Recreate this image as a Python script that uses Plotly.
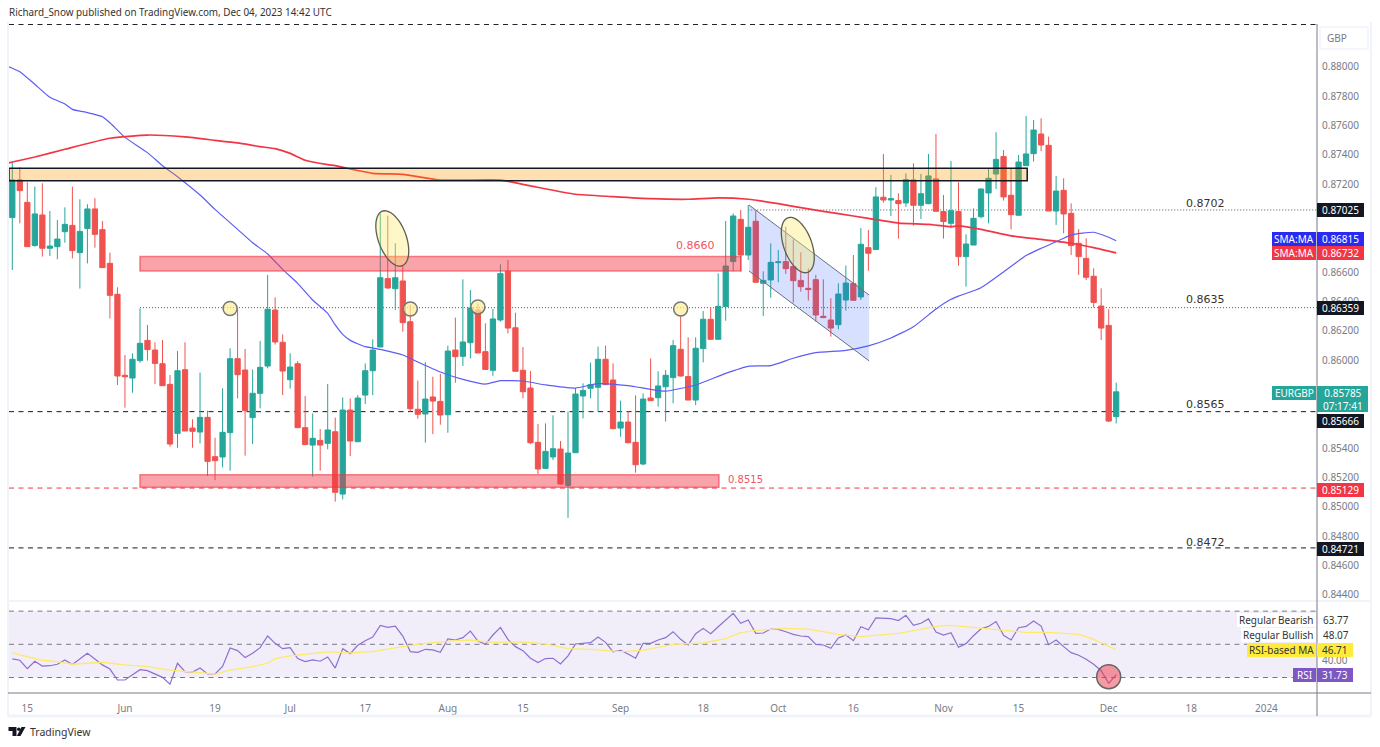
import numpy as np
import plotly.graph_objects as go

# EURGBP daily candles
opens = [0.86973, 0.87230, 0.87077, 0.86782, 0.86991, 0.86764, 0.86775, 0.86877, 0.86920, 0.86734, 0.86898, 0.87032,
         0.86891, 0.86661, 0.86450, 0.85898, 0.85879, 0.85998, 0.86136, 0.86070, 0.85977, 0.85836, 0.85502, 0.85936,
         0.85538, 0.85511, 0.85611, 0.85343, 0.85341, 0.85507, 0.86011, 0.85934, 0.85609, 0.85775, 0.85961, 0.86343,
         0.86123, 0.85868, 0.85977, 0.85541, 0.85422, 0.85454, 0.85434, 0.85513, 0.85088, 0.85661, 0.85445, 0.85763,
         0.85929, 0.86091, 0.86557, 0.86488, 0.86541, 0.86263, 0.85666, 0.85634, 0.85750, 0.85720, 0.85629, 0.86070,
         0.86027, 0.86120, 0.86343, 0.86059, 0.85932, 0.86275, 0.86607, 0.86222, 0.85932, 0.85811, 0.85441, 0.85263,
         0.85341, 0.85395, 0.85147, 0.85370, 0.85757, 0.85809, 0.85816, 0.86007, 0.85866, 0.85538, 0.85579, 0.85441,
         0.85293, 0.85743, 0.85745, 0.85820, 0.85882, 0.86075, 0.85889, 0.85729, 0.86080, 0.86280, 0.86143, 0.86366,
         0.86673, 0.86961, 0.86718, 0.86948, 0.86525, 0.86548, 0.86666, 0.86673, 0.86639, 0.86545, 0.86491, 0.86550,
         0.86300, 0.86275, 0.86243, 0.86411, 0.86523, 0.86432, 0.86768, 0.86755, 0.87112, 0.87093, 0.87089, 0.87073,
         0.87230, 0.87057, 0.87068, 0.87237, 0.87014, 0.86934, 0.87014, 0.86707, 0.86786, 0.86979, 0.87141, 0.87270,
         0.87389, 0.87125, 0.86989, 0.87327, 0.87409, 0.87543, 0.87466, 0.87018, 0.87159, 0.87002, 0.86798, 0.86695,
         0.86573, 0.86370, 0.86238, 0.85616]
highs = [0.87348, 0.87316, 0.87214, 0.87184, 0.87207, 0.87018, 0.86957, 0.87043, 0.87184, 0.87098, 0.87064, 0.87105,
         0.86950, 0.86734, 0.86498, 0.86036, 0.86048, 0.86354, 0.86241, 0.86123, 0.86138, 0.85900, 0.86063, 0.86123,
         0.85598, 0.85916, 0.85657, 0.85472, 0.85809, 0.86082, 0.86354, 0.86077, 0.85938, 0.86132, 0.86582, 0.86429,
         0.86177, 0.86048, 0.85995, 0.85757, 0.85638, 0.85532, 0.85838, 0.85609, 0.85747, 0.85741, 0.85763, 0.85979,
         0.86143, 0.87002, 0.86986, 0.86798, 0.86650, 0.86377, 0.85861, 0.85988, 0.85888, 0.85907, 0.86100, 0.86291,
         0.86552, 0.86479, 0.86388, 0.86252, 0.86350, 0.86654, 0.86684, 0.86325, 0.86091, 0.85927, 0.85566, 0.85570,
         0.85625, 0.85450, 0.85650, 0.85811, 0.85843, 0.85984, 0.86093, 0.86100, 0.85979, 0.85725, 0.85654, 0.85761,
         0.85775, 0.86013, 0.85925, 0.85934, 0.86139, 0.86309, 0.86157, 0.86157, 0.86336, 0.86361, 0.86593, 0.86950,
         0.87002, 0.87025, 0.87059, 0.87018, 0.86607, 0.86798, 0.86752, 0.86911, 0.86825, 0.86736, 0.86627, 0.86582,
         0.86552, 0.86423, 0.86525, 0.86646, 0.86718, 0.86902, 0.86889, 0.87180, 0.87407, 0.87264, 0.87139, 0.87275,
         0.87343, 0.87271, 0.87407, 0.87543, 0.87127, 0.87359, 0.87214, 0.86859, 0.87036, 0.87173, 0.87304, 0.87555,
         0.87434, 0.87309, 0.87400, 0.87666, 0.87639, 0.87650, 0.87525, 0.87257, 0.87241, 0.87070, 0.86895, 0.86832,
         0.86627, 0.86491, 0.86348, 0.85848]
lows = [0.86616, 0.86934, 0.86775, 0.86775, 0.86707, 0.86711, 0.86689, 0.86802, 0.86695, 0.86489, 0.86661, 0.86768,
        0.86632, 0.86286, 0.85832, 0.85677, 0.85779, 0.85984, 0.85998, 0.85838, 0.85827, 0.85411, 0.85404, 0.85518,
        0.85404, 0.85434, 0.85211, 0.85184, 0.85270, 0.85247, 0.85741, 0.85350, 0.85429, 0.85673, 0.85945, 0.86107,
        0.85763, 0.85807, 0.85541, 0.85425, 0.85207, 0.85247, 0.85393, 0.85036, 0.85052, 0.85347, 0.85445, 0.85702,
        0.85763, 0.86091, 0.86488, 0.86343, 0.86195, 0.85650, 0.85602, 0.85438, 0.85497, 0.85561, 0.85506, 0.85847,
        0.85961, 0.86013, 0.86050, 0.85934, 0.85895, 0.86263, 0.86184, 0.85925, 0.85741, 0.85429, 0.85225, 0.85263,
        0.85320, 0.85150, 0.84925, 0.85370, 0.85604, 0.85741, 0.85650, 0.85834, 0.85534, 0.85479, 0.85434, 0.85234,
        0.85284, 0.85725, 0.85684, 0.85582, 0.85707, 0.85889, 0.85729, 0.85695, 0.85986, 0.86143, 0.86143, 0.86270,
        0.86607, 0.86607, 0.86684, 0.86532, 0.86302, 0.86427, 0.86532, 0.86589, 0.86393, 0.86468, 0.86407, 0.86264,
        0.86291, 0.86161, 0.86211, 0.86339, 0.86409, 0.86411, 0.86611, 0.86752, 0.87075, 0.86984, 0.86830, 0.87046,
        0.86918, 0.86964, 0.87064, 0.87016, 0.86830, 0.86900, 0.86645, 0.86502, 0.86786, 0.86968, 0.86934, 0.87168,
        0.87089, 0.86893, 0.86989, 0.87327, 0.87355, 0.87427, 0.87018, 0.86923, 0.86866, 0.86718, 0.86582, 0.86548,
        0.86361, 0.86138, 0.85579, 0.85570]
closes = [0.87230, 0.87157, 0.86775, 0.86998, 0.86764, 0.86779, 0.86827, 0.86927, 0.86748, 0.86879, 0.87032, 0.86859,
          0.86632, 0.86443, 0.85893, 0.85888, 0.86007, 0.86116, 0.86073, 0.85979, 0.85827, 0.85429, 0.85929, 0.85518,
          0.85516, 0.85611, 0.85311, 0.85316, 0.85509, 0.86011, 0.85902, 0.85657, 0.85775, 0.85952, 0.86348, 0.86125,
          0.85927, 0.85954, 0.85541, 0.85425, 0.85468, 0.85422, 0.85525, 0.85100, 0.85661, 0.85450, 0.85743, 0.85929,
          0.86070, 0.86563, 0.86493, 0.86563, 0.86257, 0.85670, 0.85632, 0.85736, 0.85722, 0.85627, 0.86063, 0.86025,
          0.86125, 0.86357, 0.86050, 0.85938, 0.86282, 0.86591, 0.86220, 0.85925, 0.85786, 0.85438, 0.85259, 0.85379,
          0.85397, 0.85156, 0.85368, 0.85770, 0.85795, 0.85834, 0.86007, 0.85834, 0.85534, 0.85579, 0.85438, 0.85288,
          0.85736, 0.85725, 0.85825, 0.85898, 0.86100, 0.85893, 0.85729, 0.86082, 0.86280, 0.86143, 0.86368, 0.86643,
          0.86984, 0.86718, 0.86907, 0.86532, 0.86545, 0.86668, 0.86671, 0.86625, 0.86543, 0.86502, 0.86482, 0.86309,
          0.86291, 0.86220, 0.86452, 0.86527, 0.86409, 0.86791, 0.86730, 0.87114, 0.87093, 0.87102, 0.87068, 0.87232,
          0.87057, 0.87136, 0.87257, 0.87016, 0.86946, 0.87020, 0.86707, 0.86793, 0.86968, 0.87168, 0.87241, 0.87370,
          0.87114, 0.86993, 0.87352, 0.87407, 0.87570, 0.87468, 0.87018, 0.87154, 0.86998, 0.86782, 0.86707, 0.86566,
          0.86395, 0.86220, 0.85586, 0.85785]

sma50_idx = [-1, 0, 1, 3, 5, 7, 8, 10, 12, 13, 15, 18, 20, 22, 25, 27, 30, 32, 34, 36, 38, 40, 42, 43, 44, 45, 47, 49,
             52, 54, 57, 60, 63, 65, 68, 71, 75, 78, 82, 85, 87, 91, 95, 98, 101, 104, 107, 111, 114, 117, 120, 123,
             125, 126, 129, 132, 135, 137, 139, 141, 144, 146, 147]
sma50 = [0.88014, 0.87991, 0.87968, 0.87882, 0.87793, 0.87748, 0.87711, 0.87689, 0.87661, 0.87620, 0.87520, 0.87416,
         0.87327, 0.87252, 0.87127, 0.87029, 0.86893, 0.86802, 0.86725, 0.86620, 0.86525, 0.86411, 0.86320, 0.86241,
         0.86177, 0.86136, 0.86093, 0.86075, 0.86036, 0.85988, 0.85920, 0.85870, 0.85838, 0.85861, 0.85859, 0.85832,
         0.85811, 0.85841, 0.85827, 0.85802, 0.85790, 0.85832, 0.85911, 0.85959, 0.85964, 0.86014, 0.86052, 0.86068,
         0.86098, 0.86152, 0.86229, 0.86350, 0.86416, 0.86438, 0.86495, 0.86602, 0.86714, 0.86764, 0.86809, 0.86854,
         0.86873, 0.86839, 0.86815]
sma200_idx = [-1, 0, 3, 7, 13, 18, 23, 27, 30, 33, 35, 37, 39, 42, 43, 48, 52, 57, 65, 69, 75, 80, 85, 90, 94, 98, 102,
              106, 110, 114, 118, 122, 125, 126, 129, 133, 137, 141, 144, 147]
sma200 = [0.87340, 0.87352, 0.87386, 0.87439, 0.87514, 0.87536, 0.87523, 0.87500, 0.87482, 0.87457, 0.87443, 0.87411,
          0.87364, 0.87334, 0.87327, 0.87275, 0.87268, 0.87229, 0.87229, 0.87189, 0.87132, 0.87116, 0.87102, 0.87098,
          0.87107, 0.87098, 0.87068, 0.87032, 0.87000, 0.86968, 0.86936, 0.86927, 0.86911, 0.86916, 0.86893, 0.86848,
          0.86825, 0.86798, 0.86768, 0.86732]

rsi = [41.2, 40.4, 35.3, 39.8, 36.9, 37.1, 38.0, 40.6, 37.8, 41.2, 44.6, 41.2, 37.6, 35.1, 28.5, 28.5, 31.5, 34.7, 34.1,
       32.3, 30.1, 25.9, 38.6, 33.5, 33.3, 35.7, 32.1, 32.1, 36.7, 47.8, 46.2, 42.0, 44.6, 48.0, 55.0, 50.6, 47.4, 48.0,
       41.4, 39.6, 40.6, 39.8, 42.4, 35.7, 47.4, 44.4, 49.4, 52.2, 54.4, 61.4, 60.2, 61.0, 55.0, 45.6, 45.2, 47.0, 46.6,
       45.2, 53.2, 52.6, 54.0, 58.0, 52.0, 50.0, 55.6, 60.2, 53.0, 48.6, 46.2, 41.6, 39.0, 41.4, 41.6, 38.2, 43.0, 50.2,
       50.4, 51.0, 54.4, 51.2, 45.4, 46.4, 44.2, 41.6, 50.6, 50.6, 52.6, 54.0, 57.6, 53.0, 49.6, 56.4, 59.6, 56.4, 60.6,
       64.7, 68.7, 62.7, 64.7, 56.6, 56.8, 59.2, 59.0, 57.6, 56.0, 55.0, 54.6, 50.0, 49.6, 47.6, 53.8, 55.6, 52.2, 60.6,
       58.8, 65.9, 65.5, 65.5, 64.3, 67.5, 61.4, 62.7, 65.3, 57.4, 55.6, 57.0, 48.2, 50.4, 55.2, 59.4, 60.8, 63.7, 55.4,
       52.6, 60.0, 60.8, 64.1, 61.0, 49.8, 52.6, 48.6, 45.0, 43.4, 41.0, 38.0, 34.1, 26.5, 31.73]
rsi_ma_idx = [0, 1, 4, 6, 8, 12, 15, 18, 21, 24, 27, 29, 32, 34, 35, 37, 40, 42, 45, 48, 52, 55, 59, 61, 64, 68, 71, 74,
              77, 81, 84, 88, 92, 95, 97, 99, 103, 106, 110, 113, 118, 121, 123, 125, 129, 132, 135, 138, 142, 144, 147]
rsi_ma = [45.0, 43.6, 40.4, 39.6, 38.0, 39.2, 37.6, 36.5, 34.5, 33.3, 32.1, 34.5, 36.5, 38.6, 41.4, 43.0, 44.4, 45.4,
          44.8, 45.6, 48.6, 50.6, 52.2, 52.6, 51.2, 51.4, 50.2, 47.4, 47.0, 45.6, 46.4, 50.0, 50.8, 53.4, 57.0, 58.4,
          59.6, 59.2, 56.0, 54.6, 56.6, 59.0, 60.8, 61.4, 59.8, 58.6, 57.2, 57.2, 56.0, 53.0, 46.71]

# candle positions of the time axis labels (business days from 2023-05-11)
tick_idx = [2, 15, 27, 37, 47, 58, 68, 81, 92, 102, 112, 124, 134, 146, 157, 167]
tick_labels = ["15", "Jun", "19", "Jul", "17", "Aug", "15", "Sep", "18", "Oct", "16", "Nov", "15", "Dec", "18", "2024"]
price_ticks = [0.880, 0.878, 0.876, 0.874, 0.872, 0.866, 0.864, 0.862, 0.860, 0.854, 0.852, 0.850, 0.848, 0.846, 0.844]

circle_idx = [29, 53, 62, 89]
circle_price = [0.86353, 0.86350, 0.86364, 0.86350]
channel_idx = [98.1, 114.1, 114.1, 98.1, 98.1]
channel_price = [0.87059, 0.86445, 0.85996, 0.86609, 0.87059]

W, H = 1380, 747
PLOT_L, PLOT_R, PLOT_T, PLOT_B = 9, 1317, 24, 693
STEP_PX = 7.51      # pixels per candle
PRICE_PX = 14667    # pixels per unit of price
X_MIN, X_MAX = -0.44, 173.74
GREEN, RED = "#26a69a", "#ef5350"
GRID_GREY = "#787b86"
FRAME = "#f0f3fa"
FONT = "Noto Sans"
LEVEL_RED = "#f23645"


def xp(px):
    return (px - PLOT_L) / (PLOT_R - PLOT_L)


def yp(py):
    return (PLOT_B - py) / (PLOT_B - PLOT_T)


def ellipse_path(cx, cy, a, b, tilt=20):
    t = np.linspace(0, 2 * np.pi, 60)
    s, c = np.sin(np.radians(tilt)), np.cos(np.radians(tilt))
    dx = a * np.cos(t) * s + b * np.sin(t) * c
    dy = a * np.cos(t) * c - b * np.sin(t) * s
    xs = cx + dx / STEP_PX
    ys = cy - dy / PRICE_PX
    return "M " + " L ".join(f"{x:.3f},{y:.5f}" for x, y in zip(xs, ys)) + " Z"


def paper_poly(points):
    return "M " + " L ".join(f"{xp(x):.5f},{yp(y):.5f}" for x, y in points) + " Z"


idx = list(range(len(opens)))

fig = go.Figure()
fig.add_trace(go.Candlestick(x=idx, open=opens, high=highs, low=lows, close=closes,
                             increasing=dict(line=dict(color=GREEN, width=1), fillcolor=GREEN),
                             decreasing=dict(line=dict(color=RED, width=1), fillcolor=RED),
                             whiskerwidth=0, hoverinfo="skip"))
fig.add_trace(go.Scatter(x=sma50_idx, y=sma50, mode="lines", line=dict(color="#5c5cf7", width=1.2, shape="spline", smoothing=0.5)))
fig.add_trace(go.Scatter(x=sma200_idx, y=sma200, mode="lines", line=dict(color="#f23645", width=1.7, shape="spline", smoothing=0.5)))
fig.add_trace(go.Scatter(x=channel_idx, y=channel_price, mode="lines", fill="toself", line=dict(width=0),
                         fillcolor="rgba(41,98,255,0.19)"))
fig.add_trace(go.Scatter(x=channel_idx[:2], y=channel_price[:2], mode="lines", line=dict(color="#6b6f7e", width=1)))
fig.add_trace(go.Scatter(x=channel_idx[2:4], y=channel_price[2:4], mode="lines", line=dict(color="#6b6f7e", width=1)))
fig.add_trace(go.Scatter(x=circle_idx, y=circle_price, mode="markers",
                         marker=dict(size=14, color="rgba(253,238,150,0.7)", line=dict(color="#777", width=1.5))))
fig.add_trace(go.Scatter(x=idx, y=rsi, mode="lines", yaxis="y2", line=dict(color="#8e6fd0", width=1.2)))
fig.add_trace(go.Scatter(x=rsi_ma_idx, y=rsi_ma, mode="lines", yaxis="y2", line=dict(color="#fdea6b", width=1.3)))
fig.add_trace(go.Scatter(x=[146], y=[30.5], mode="markers", yaxis="y2",
                         marker=dict(size=24, color="rgba(242,54,69,0.5)", line=dict(color="#666", width=1.5))))

shapes = []


def level(price, x0=X_MIN, x1=X_MAX, dash="5px,4.5px", color="#131722", width=1):
    shapes.append(dict(type="line", xref="x", yref="y", x0=x0, x1=x1, y0=price, y1=price, layer="below",
                       line=dict(color=color, width=width, dash=dash)))


level(0.88290)
level(0.87025, x0=98, dash="1px,2px", color="#555")
level(0.86359, x0=17, dash="1px,2px", color="#555")
level(0.85650)
level(0.85129, color=LEVEL_RED)
level(0.84721)

# supply / demand zones
shapes.append(dict(type="rect", xref="x", yref="y", x0=X_MIN, x1=135.15, y0=0.87225, y1=0.87309, layer="above",
                   fillcolor="rgba(255,152,0,0.3)", line=dict(color="#131722", width=1.5)))
shapes.append(dict(type="rect", xref="x", yref="y", x0=17, x1=97.03, y0=0.86609, y1=0.86707, layer="above",
                   fillcolor="rgba(242,54,69,0.45)", line=dict(color="rgba(242,54,69,0.6)", width=1.5)))
shapes.append(dict(type="rect", xref="x", yref="y", x0=17, x1=94.1, y0=0.85134, y1=0.85220, layer="above",
                   fillcolor="rgba(242,54,69,0.45)", line=dict(color="rgba(242,54,69,0.6)", width=1.5)))
for cx, cy in [(50.6, 0.86831), (104.6, 0.86786)]:
    shapes.append(dict(type="path", xref="x", yref="y", path=ellipse_path(cx, cy, 29, 14), layer="above",
                       fillcolor="rgba(253,235,100,0.35)", line=dict(color="#5d5d50", width=1.3)))

# RSI band
shapes.append(dict(type="rect", xref="x", yref="y2", x0=X_MIN, x1=X_MAX, y0=30, y1=70, layer="below",
                   fillcolor="rgba(126,87,194,0.1)", line=dict(width=0)))
for band in [70, 50, 30]:
    shapes.append(dict(type="line", xref="x", yref="y2", x0=X_MIN, x1=X_MAX, y0=band, y1=band, layer="below",
                       line=dict(color=GRID_GREY, width=1, dash="5px,4.5px")))

# pane frame
for x0, y0, x1, y1, col, w in [(8, 22, 8, 716, FRAME, 2), (1371, 22, 1371, 716, FRAME, 2), (8, 716, 1371, 716, FRAME, 3),
                               (8, 601, 1371, 601, FRAME, 2), (8, 693, 1371, 693, GRID_GREY, 1),
                               (1317, 24, 1317, 716, GRID_GREY, 1)]:
    shapes.append(dict(type="line", xref="paper", yref="paper", x0=xp(x0), x1=xp(x1), y0=yp(y0), y1=yp(y1),
                       layer="above", line=dict(color=col, width=w)))
shapes.append(dict(type="rect", xref="paper", yref="paper", x0=xp(1320), x1=xp(1368), y0=yp(49), y1=yp(27),
                   line=dict(color=FRAME, width=1.5), fillcolor="white"))

# TradingView logo
shapes.append(dict(type="path", xref="paper", yref="paper", fillcolor="#131722", line=dict(width=0),
                   path=paper_poly([(8.5, 727), (16.5, 727), (16.5, 736), (12.5, 736), (12.5, 731), (8.5, 731)])))
shapes.append(dict(type="path", xref="paper", yref="paper", fillcolor="#131722", line=dict(width=0),
                   path=paper_poly([(21.5, 727), (25.5, 727), (20.5, 736), (16.8, 736)])))
shapes.append(dict(type="circle", xref="paper", yref="paper", fillcolor="#131722", line=dict(width=0),
                   x0=xp(17), x1=xp(20.5), y0=yp(731), y1=yp(727.5)))

notes = []


def text(label, px, py, color="#131722", size=11, anchor="left", family=FONT):
    notes.append(dict(xref="paper", yref="paper", x=xp(px), y=yp(py), text=label, showarrow=False, xanchor=anchor,
                      yanchor="middle", font=dict(color=color, size=size, family=family)))


def badge(label, x0, x1, y0, y1, bg, fg="white", size=10):
    shapes.append(dict(type="rect", xref="paper", yref="paper", x0=xp(x0), x1=xp(x1), y0=yp(y1), y1=yp(y0),
                       fillcolor=bg, line=dict(width=0), layer="above"))
    notes.append(dict(xref="paper", yref="paper", x=xp((x0 + x1) / 2), y=yp((y0 + y1) / 2), text=label,
                      showarrow=False, xanchor="center", yanchor="middle",
                      font=dict(color=fg, size=size, family=FONT)))


text("Richard_Snow published on TradingView.com, Dec 04, 2023 14:42 UTC", 7, 12, size=9.9, color="#333")
text("TradingView", 28, 732, size=10.5, color="#333")
text("GBP", 1337, 38, size=10, color=GRID_GREY, anchor="center")

for label, py in [("0.8702", 203), ("0.8635", 299), ("0.8565", 404), ("0.8472", 542)]:
    text(label, 1205, py, size=11, anchor="center", family="DejaVu Sans", color="#333")
text("0.8660", 695, 246, color="#f2545f", size=11, anchor="center", family="DejaVu Sans")
text("0.8515", 745, 479, color="#f2545f", size=10, anchor="center", family="DejaVu Sans")

for label, py, bg in [("0.87025", 210, "#131722"), ("0.86359", 308, "#131722"), ("0.85666", 421, "#131722"),
                      ("0.85129", 490, LEVEL_RED), ("0.84721", 549, "#131722")]:
    badge(label, 1317, 1364, py - 7, py + 7, bg)
for label, py, bg in [("0.86815", 239, "#2a2af0"), ("0.86732", 253, "#f23645")]:
    badge("SMA:MA", 1272, 1316, py - 7, py + 7, bg)
    badge(label, 1317, 1364, py - 7, py + 7, bg)
badge("EURGBP", 1272, 1316, 386, 400, GREEN)
badge("0.85785<br>07:17:41", 1317, 1368, 386, 412, GREEN)

badge("Regular Bearish", 1237, 1316, 613, 627, "white", "#333")
badge("Regular Bullish", 1241, 1316, 628, 642, "white", "#333")
badge("RSI-based MA", 1247, 1316, 643, 657, "#ffeb3b", "#333")
badge("RSI", 1293, 1316, 668, 682, "#7e57c2")
text("63.77", 1336, 620, size=10, anchor="center", color="#333")
text("48.07", 1336, 635, size=10, anchor="center", color="#333")
badge("46.71", 1317, 1353, 643, 657, "#ffeb3b", "#333")
badge("31.73", 1317, 1353, 668, 682, "#7e57c2")

fig.update_layout(
    width=W, height=H, showlegend=False, plot_bgcolor="white", paper_bgcolor="white",
    margin=dict(l=PLOT_L, r=W - PLOT_R, t=PLOT_T, b=H - PLOT_B, autoexpand=False),
    font=dict(family=FONT, size=10, color=GRID_GREY),
    shapes=shapes, annotations=notes, dragmode=False, boxgap=0.3, boxgroupgap=0,
    xaxis=dict(range=[X_MIN, X_MAX], anchor="y2", rangeslider=dict(visible=False), showgrid=False, zeroline=False,
               tickmode="array", tickvals=tick_idx, ticktext=tick_labels, ticks="outside", ticklen=6,
               tickcolor="rgba(0,0,0,0)"),
    yaxis=dict(domain=[yp(601), 1], range=[0.84359, 0.88293], side="right", showgrid=False, zeroline=False,
               tickmode="array", tickvals=price_ticks, tickformat=".5f", ticks="outside", ticklen=2,
               tickcolor="rgba(0,0,0,0)"),
    yaxis2=dict(domain=[0, yp(602)], range=[20.66, 75.5], side="right", showgrid=False, zeroline=False,
                tickmode="array", tickvals=[40], tickformat=".2f", ticks="outside", ticklen=2,
                tickcolor="rgba(0,0,0,0)"),
)

fig.write_html("out.html", config=dict(displayModeBar=False),
               post_script="document.body.style.margin='0';document.body.style.overflow='hidden';")
